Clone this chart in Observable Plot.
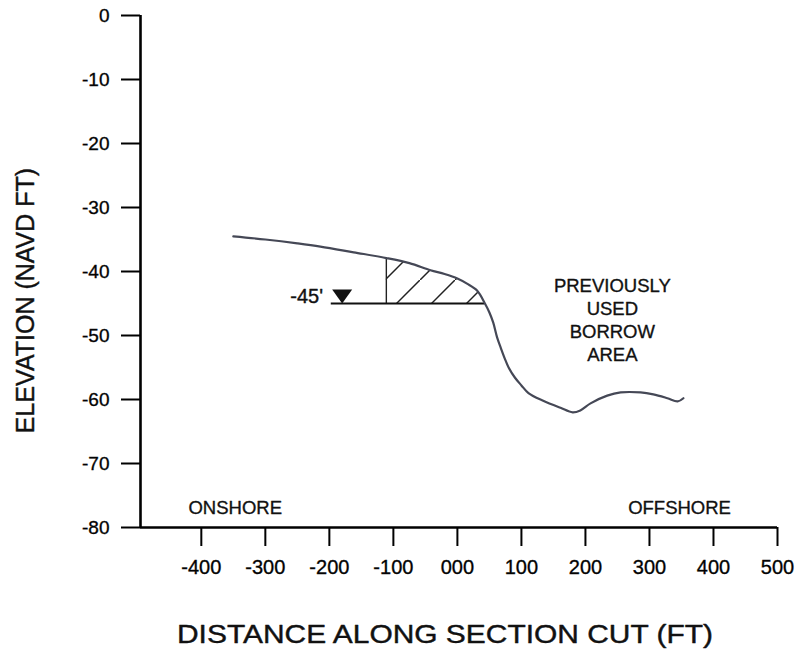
<!DOCTYPE html>
<html><head><meta charset="utf-8">
<script src="https://cdn.jsdelivr.net/npm/d3@7"></script>
<script src="https://cdn.jsdelivr.net/npm/@observablehq/plot@0.6"></script>
<style>body{margin:0;background:#fff}</style>
</head><body><div id="chart"></div>
<script>
// Seabed profile (distance ft, elevation ft NAVD)
const profileX = [-350,-300,-250,-214,-162,-111,-75,-42,-20,0,15,31,43,50,56,62,68,74,80,90,100,111,134,161,180,192,208,234,255,286,306,328,344,353];
const profileY = [-34.5,-35.0,-35.6,-36.1,-37.0,-37.9,-38.7,-39.8,-40.4,-41.1,-41.9,-43.0,-45.0,-46.4,-48.0,-50.3,-52.0,-53.6,-55.0,-56.6,-57.8,-59.0,-60.2,-61.3,-62.0,-61.7,-60.6,-59.4,-58.9,-58.9,-59.2,-59.8,-60.3,-59.8];

const xTicks = [-400,-300,-200,-100,0,100,200,300,400,500];
const xTickLabels = ["-400","-300","-200","-100","000","100","200","300","400","500"];
const yTicks = [0,-10,-20,-30,-40,-50,-60,-70,-80];
const yTickLabels = ["0","-10","-20","-30","-40","-50","-60","-70","-80"];
const xDomain = [-495, 500];
const yDomain = [-80, 0];

const waterLevel = -45;
const waterLabel = "-45'";
const waterLabelX = -210;
const waterLineStartX = -197;
const markerX = -180;
const cutStartX = -111;
const cutEndX = 43;

const sideLabels = ["ONSHORE", "OFFSHORE"];
const sideLabelX = [-347, 347];
const sideLabelY = [-76.9, -76.9];

const areaLabel = "PREVIOUSLY\nUSED\nBORROW\nAREA";
const areaLabelX = 242;
const areaLabelY = -47.5;

const xTitle = "DISTANCE ALONG SECTION CUT (FT)";
const yTitle = "ELEVATION (NAVD FT)";

const profile = profileX.map((x, i) => ({x, y: profileY[i]}));
const cut = profile.filter(d => d.x >= cutStartX && d.x <= cutEndX);
const cutTopY = profile.find(d => d.x === cutStartX).y;

const downTriangle = {
  draw(ctx) { ctx.moveTo(-10, -14); ctx.lineTo(10, -14); ctx.lineTo(0, 0); ctx.closePath(); }
};

const font = "'Liberation Sans', Arial, Helvetica, sans-serif";
const ink = "#111";

const svg = Plot.plot({
  width: 796,
  height: 654,
  marginLeft: 140,
  marginRight: 19,
  marginTop: 15,
  marginBottom: 127,
  style: {fontFamily: font, fontSize: "19px", background: "white", color: "black", overflow: "visible"},
  x: {domain: xDomain},
  y: {domain: yDomain},
  marks: [
    Plot.areaY(cut, {x: "x", y1: waterLevel, y2: "y", fill: "url(#hatch)", curve: "catmull-rom"}),
    Plot.ruleX([cutStartX], {y1: waterLevel, y2: cutTopY, stroke: "#222", strokeWidth: 1.4}),
    Plot.ruleY([waterLevel], {x1: waterLineStartX, x2: cutEndX, stroke: ink, strokeWidth: 2}),
    Plot.dot([markerX], {x: d => d, y: waterLevel, symbol: downTriangle, fill: ink, stroke: "none"}),
    Plot.text([waterLabel], {x: waterLabelX, y: waterLevel, text: d => d, textAnchor: "end", dy: -7, fontSize: 20, fill: ink, stroke: ink, strokeWidth: 0.4}),
    Plot.line(profile, {x: "x", y: "y", stroke: "#454856", strokeWidth: 2.2, curve: "catmull-rom"}),
    Plot.axisX({ticks: xTicks, tickFormat: (d, i) => xTickLabels[i], tickSize: 19, tickPadding: 13, fontSize: 20, strokeWidth: 2, label: null, className: "xaxis"}),
    Plot.axisY({ticks: yTicks, tickFormat: (d, i) => yTickLabels[i], tickSize: 19, tickPadding: 12, fontSize: 19, strokeWidth: 2, label: null, className: "yaxis"}),
    Plot.ruleX([xDomain[0]], {y1: yDomain[0], y2: yDomain[1], stroke: "black", strokeWidth: 2.6}),
    Plot.ruleY([yDomain[0]], {x1: xDomain[0], x2: xDomain[1], stroke: "black", strokeWidth: 2.6}),
    Plot.text(sideLabels, {x: (d, i) => sideLabelX[i], y: (d, i) => sideLabelY[i], text: d => d, fontSize: 18.5, fill: ink, stroke: ink, strokeWidth: 0.35}),
    Plot.text([areaLabel], {x: areaLabelX, y: areaLabelY, text: d => d, fontSize: 18.5, lineHeight: 1.24, lineAnchor: "middle", fill: ink, stroke: ink, strokeWidth: 0.35}),
    Plot.text([xTitle], {frameAnchor: "bottom", text: d => d, dx: -14, dy: 107, fontSize: 25, textAnchor: "middle", lineAnchor: "middle", fill: ink, stroke: ink, strokeWidth: 0.4, className: "xtitle"}),
    Plot.text([yTitle], {frameAnchor: "left", text: d => d, dx: -115, dy: 29, rotate: -90, fontSize: 25, textAnchor: "middle", lineAnchor: "middle", fill: ink, stroke: ink, strokeWidth: 0.4})
  ]
});

d3.select(svg).insert("defs", ":first-child").html(
  '<pattern id="hatch" patternUnits="userSpaceOnUse" width="35" height="35">' +
  '<line x1="-2" y1="37" x2="37" y2="-2" stroke="#222" stroke-width="1.5"/></pattern>'
);
d3.select(svg).selectAll(".xtitle text").attr("textLength", 536).attr("lengthAdjust", "spacingAndGlyphs");
d3.select(svg).selectAll(".xaxis text, .yaxis text").attr("stroke", ink).attr("stroke-width", 0.35);

document.getElementById("chart").appendChild(svg);
</script>
</body></html>
